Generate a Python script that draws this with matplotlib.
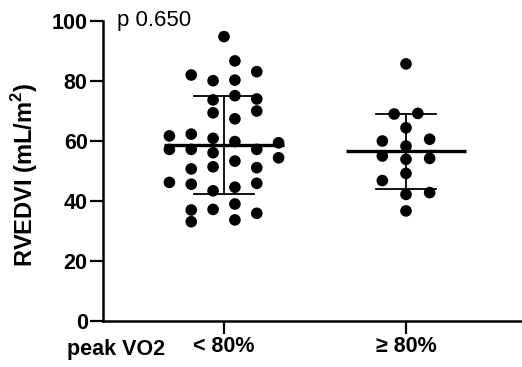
import matplotlib
matplotlib.use('Agg')
import matplotlib.pyplot as plt
import numpy as np

plt.rcParams['font.family'] = ['Liberation Sans', 'DejaVu Sans']
plt.rcParams['mathtext.fontset'] = 'custom'
plt.rcParams['mathtext.rm'] = 'Liberation Sans'
plt.rcParams['mathtext.bf'] = 'Liberation Sans:bold'

# ---- data ----
groups = ['< 80%', '≥ 80%']
x_title = 'peak VO2'
y_label = r'RVEDVI (mL/m$^\mathbf{2}$)'
p_text = 'p 0.650'
yticks = [0, 20, 40, 60, 80, 100]

lt80 = [94.8, 86.7, 82.0, 80.1, 80.3, 83.1, 73.7, 75.1, 74.0, 69.4, 70.0, 67.4,
        61.7, 62.3, 60.9, 59.8, 59.4, 57.2, 57.2, 56.1, 57.2, 54.4, 53.3, 50.7,
        51.4, 51.1, 46.2, 45.6, 43.4, 44.6, 45.9, 37.0, 37.2, 39.0, 35.9, 33.1, 33.7]
ge80 = [85.7, 69.0, 69.2, 64.4, 60.0, 60.6, 58.3, 55.0, 53.9, 54.2, 49.2, 46.8,
        42.2, 42.8, 36.7]

# ---- layout: swarm column slot of each dot (in slot units) ----
lt80_slots = [0, 1, -3, -1, 1, 3, -1, 1, 3, -1, 3, 1,
              -5, -3, -1, 1, 5, -5, -3, -1, 3, 5, 1, -3,
              -1, 3, -5, -3, -1, 1, 3, -3, -1, 1, 3, -3, 1]
ge80_slots = [0, -1, 1, 0, -2, 2, 0, -2, 0, 2, 0, -2, 0, 2, 0]
slot_unit = [0.060, 0.065]

fig = plt.figure(figsize=(5.22, 3.67), dpi=100)
ax = fig.add_axes([103/522, 46/367, 1 - 103/522, 300/367])

for i, (vals, slots) in enumerate([(lt80, lt80_slots), (ge80, ge80_slots)]):
    v = np.array(vals)
    xs = i + np.array(slots) * slot_unit[i]
    ax.scatter(xs, v, s=70, color='black', edgecolors='none', zorder=3, clip_on=False)
    m = v.mean()
    sd = v.std(ddof=1)
    ax.plot([i - 0.33, i + 0.33], [m, m], color='black', lw=2.4, zorder=4,
            solid_capstyle='butt')
    ax.plot([i, i], [m - sd, m + sd], color='black', lw=1.3, zorder=2)
    for yy in (m - sd, m + sd):
        ax.plot([i - 0.165, i + 0.165], [yy, yy], color='black', lw=1.3, zorder=2)

ax.set_xlim((103 - 224) / 182, (522 - 224) / 182)
ax.set_ylim(0, 100)
ax.set_yticks(yticks)
ax.set_xticks(range(len(groups)))
ax.set_xticklabels(groups)

for s in ['top', 'right']:
    ax.spines[s].set_visible(False)
for s in ['left', 'bottom']:
    ax.spines[s].set_linewidth(1.8)
    ax.spines[s].set_capstyle('projecting')

ax.tick_params(axis='both', which='major', direction='out', width=1.6, length=9.5,
               labelsize=15.5, pad=1.5)
for lbl in ax.get_xticklabels() + ax.get_yticklabels():
    lbl.set_fontweight('bold')

ax.set_ylabel(y_label, fontsize=17, fontweight='bold')
ax.yaxis.set_label_coords((40 - 103) / 419, (321 - 175) / 300)

ax.text((117 - 224) / 182, 100.3, p_text, fontsize=16, va='center', ha='left')

fig.text(67 / 522, 1 - 349.5 / 367, x_title, fontsize=15.5, fontweight='bold',
         ha='left', va='center')

fig.savefig('out.png', dpi=100)
